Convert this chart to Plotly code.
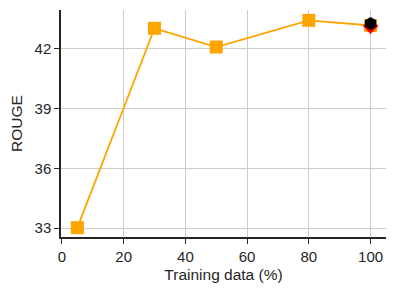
import plotly.graph_objects as go

train_pct = [5, 30, 50, 80, 100]
rouge = [33.02, 43.04, 42.1, 43.44, 43.18]
ref_x = [100]
ref_red = [43.15]
ref_black = [43.28]

fig = go.Figure()
fig.add_trace(go.Scatter(x=train_pct, y=rouge, mode="lines+markers",
                         line=dict(color="#FFA500", width=1.8),
                         marker=dict(symbol="square", size=13, color="#FFA500"),
                         showlegend=False))
fig.add_trace(go.Scatter(x=ref_x, y=ref_red, mode="markers",
                         marker=dict(symbol="diamond", size=12, color="red"),
                         showlegend=False))
fig.add_trace(go.Scatter(x=ref_x, y=ref_black, mode="markers",
                         marker=dict(symbol="hexagon", size=13, color="black"),
                         showlegend=False))

axis_common = dict(showline=True, linecolor="#262626", linewidth=1.5,
                   ticks="outside", ticklen=5, tickcolor="#262626", tickwidth=1,
                   showgrid=True, gridcolor="#cccccc", gridwidth=1,
                   zeroline=False, tickfont=dict(size=15, color="#262626"),
                   mirror=False)
fig.update_xaxes(range=[-0.3, 105], tickvals=[0, 20, 40, 60, 80, 100],
                 title=dict(text="Training data (%)", font=dict(size=15.5, color="#262626"), standoff=5),
                 **axis_common)
fig.update_yaxes(range=[32.55, 43.96], tickvals=[33, 36, 39, 42],
                 title=dict(text="ROUGE", font=dict(size=15.5, color="#262626"), standoff=8),
                 **axis_common)
fig.update_layout(width=396, height=296, margin=dict(l=61, r=10, t=10, b=59, autoexpand=False),
                  plot_bgcolor="white", paper_bgcolor="white",
                  font=dict(family="Liberation Sans, Arial, sans-serif"))
fig.write_html("out.html", config={"displayModeBar": False},
               post_script="document.body.style.margin='0';")
